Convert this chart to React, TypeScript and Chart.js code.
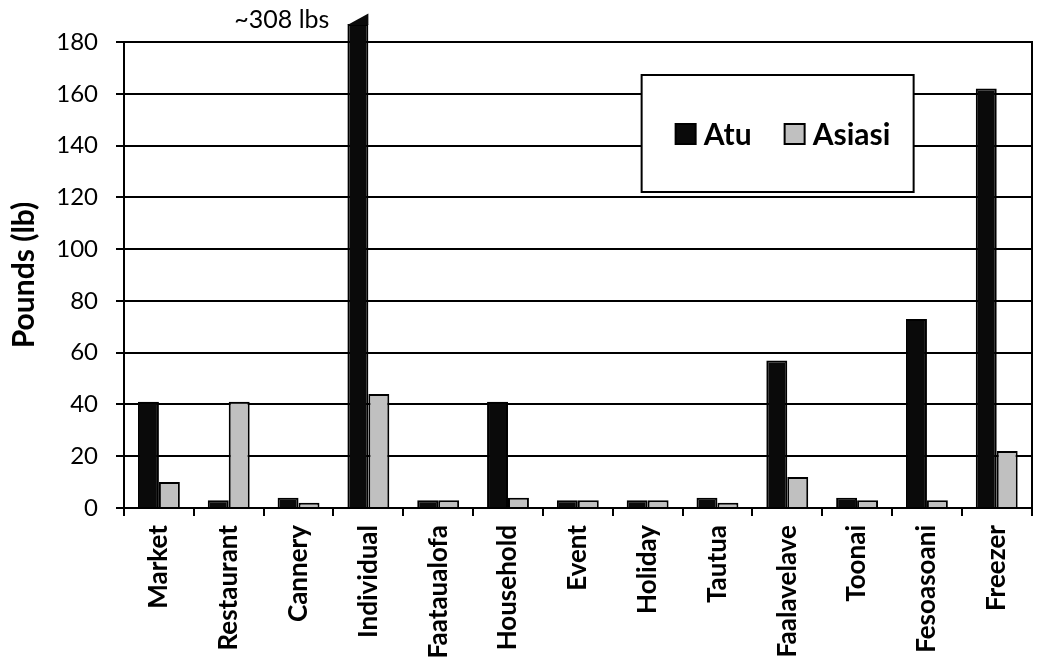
import React, { useEffect, useRef } from 'react';
import { Chart, registerables } from 'chart.js';

Chart.register(...registerables);

// ---- Data ----
const categories = [
  'Market', 'Restaurant', 'Cannery', 'Individual', 'Faataualofa', 'Household',
  'Event', 'Holiday', 'Tautua', 'Faalavelave', 'Toonai', 'Fesoasoani', 'Freezer',
];
const atuValues = [41, 3, 4, 308, 3, 41, 3, 3, 4, 57, 4, 73, 162];
const asiasiValues = [10, 41, 2, 44, 3, 4, 3, 3, 2, 12, 3, 3, 22];
const seriesNames = ['Atu', 'Asiasi'];
const yTickValues = [0, 20, 40, 60, 80, 100, 120, 140, 160, 180];

// Broken-bar settings: bars above the axis are cut and drawn with a slanted top
const BREAK_LOW = 187;
const BREAK_HIGH = 191;
const brokenLabel = (v: number) => `~${v} lbs`;

const ATU_COLOR = '#0a0a0a';
const ASIASI_COLOR = '#c0c0c0';

const breakPlugin = {
  id: 'breakMark',
  afterDatasetsDraw(chart: any) {
    const meta = chart.getDatasetMeta(0);
    const y = chart.scales.y;
    const ctx = chart.ctx;
    atuValues.forEach((v, i) => {
      if (v <= BREAK_LOW) return;
      const bar = meta.data[i];
      const p = bar.getProps(['x', 'width'], true);
      const l = p.x - p.width / 2;
      const r = p.x + p.width / 2;
      const yLow = y.getPixelForValue(BREAK_LOW);
      const yHigh = y.getPixelForValue(BREAK_HIGH);
      ctx.save();
      ctx.fillStyle = ATU_COLOR;
      ctx.beginPath();
      ctx.moveTo(l, yLow + 1);
      ctx.lineTo(r, yHigh);
      ctx.lineTo(r, yLow + 1);
      ctx.closePath();
      ctx.fill();
      ctx.font = '25px Lato';
      ctx.fillStyle = '#000';
      ctx.textAlign = 'right';
      ctx.textBaseline = 'middle';
      ctx.fillText(brokenLabel(v), l - 18, yLow - 4);
      ctx.restore();
    });
  },
};

const boxLegendPlugin = {
  id: 'boxLegend',
  afterDraw(chart: any) {
    const area = chart.chartArea;
    const ctx = chart.ctx;
    const w = 272;
    const h = 117;
    const bx = area.right - 390;
    const by = area.top + 33;
    ctx.save();
    ctx.fillStyle = '#fff';
    ctx.fillRect(bx, by, w, h);
    ctx.lineWidth = 2;
    ctx.strokeStyle = '#000';
    ctx.strokeRect(bx, by, w, h);
    ctx.font = 'bold 30px Lato';
    ctx.textBaseline = 'middle';
    ctx.textAlign = 'left';
    chart.data.datasets.forEach((ds: any, i: number) => {
      const sx = bx + 34 + i * 109;
      const sy = by + 49;
      ctx.fillStyle = ds.backgroundColor;
      ctx.fillRect(sx, sy, 20, 20);
      ctx.lineWidth = 2;
      ctx.strokeStyle = '#000';
      ctx.strokeRect(sx, sy, 20, 20);
      ctx.fillStyle = '#000';
      ctx.fillText(ds.label, sx + 28, sy + 11);
    });
    ctx.restore();
  },
};

export default function App() {
  const canvasRef = useRef<HTMLCanvasElement | null>(null);

  useEffect(() => {
    const canvas = canvasRef.current;
    if (!canvas) return;
    const chart = new Chart(canvas, {
      type: 'bar',
      data: {
        labels: categories,
        datasets: [
          {
            label: seriesNames[0],
            data: atuValues.map((v) => Math.min(v, BREAK_LOW)),
            backgroundColor: ATU_COLOR,
            borderColor: '#000',
            borderWidth: 2,
            clip: false as any,
          },
          {
            label: seriesNames[1],
            data: asiasiValues,
            backgroundColor: ASIASI_COLOR,
            borderColor: '#000',
            borderWidth: 2,
          },
        ],
      },
      options: {
        responsive: false,
        animation: false,
        layout: { padding: { top: 42, left: 0, right: 0, bottom: 0 } },
        datasets: {
          bar: { categoryPercentage: 0.6, barPercentage: 1.0 },
        },
        plugins: {
          legend: { display: false },
          tooltip: { enabled: false },
        },
        scales: {
          x: {
            type: 'category',
            offset: true,
            grid: {
              offset: true,
              drawOnChartArea: false,
              drawTicks: true,
              tickLength: 8,
              color: '#000',
              lineWidth: 2,
            },
            border: { display: true, color: '#000', width: 2 },
            ticks: {
              autoSkip: false,
              minRotation: 90,
              maxRotation: 90,
              padding: 9,
              color: '#000',
              font: { family: 'Lato', size: 26, weight: 'bold' },
            },
            afterFit: (s: any) => {
              s.height = 155;
            },
          },
          y: {
            min: 0,
            max: 180,
            afterBuildTicks: (s: any) => {
              s.ticks = yTickValues.map((v) => ({ value: v }));
            },
            grid: {
              color: '#000',
              lineWidth: 2,
              drawTicks: true,
              tickLength: 8,
            },
            border: { display: true, color: '#000', width: 2 },
            ticks: {
              padding: 18,
              color: '#000',
              font: { family: 'Lato', size: 24 },
            },
            title: {
              display: true,
              text: 'Pounds (lb)',
              color: '#000',
              font: { family: 'Lato', size: 30, weight: 'bold' },
              padding: { top: 6, bottom: 0 },
            },
            afterFit: (s: any) => {
              s.width = 124;
            },
          },
          y2: {
            position: 'right',
            display: true,
            grid: { drawOnChartArea: false, drawTicks: false },
            ticks: { display: false },
            border: { display: true, color: '#000', width: 2 },
            afterFit: (s: any) => {
              s.width = 2;
            },
          },
        },
      } as any,
      plugins: [breakPlugin, boxLegendPlugin],
    });
    return () => chart.destroy();
  }, []);

  return (
    <div style={{ position: 'fixed', left: 0, top: 0, width: 1037, height: 663, background: '#fff' }}>
      <canvas ref={canvasRef} width={1037} height={663} />
    </div>
  );
}
